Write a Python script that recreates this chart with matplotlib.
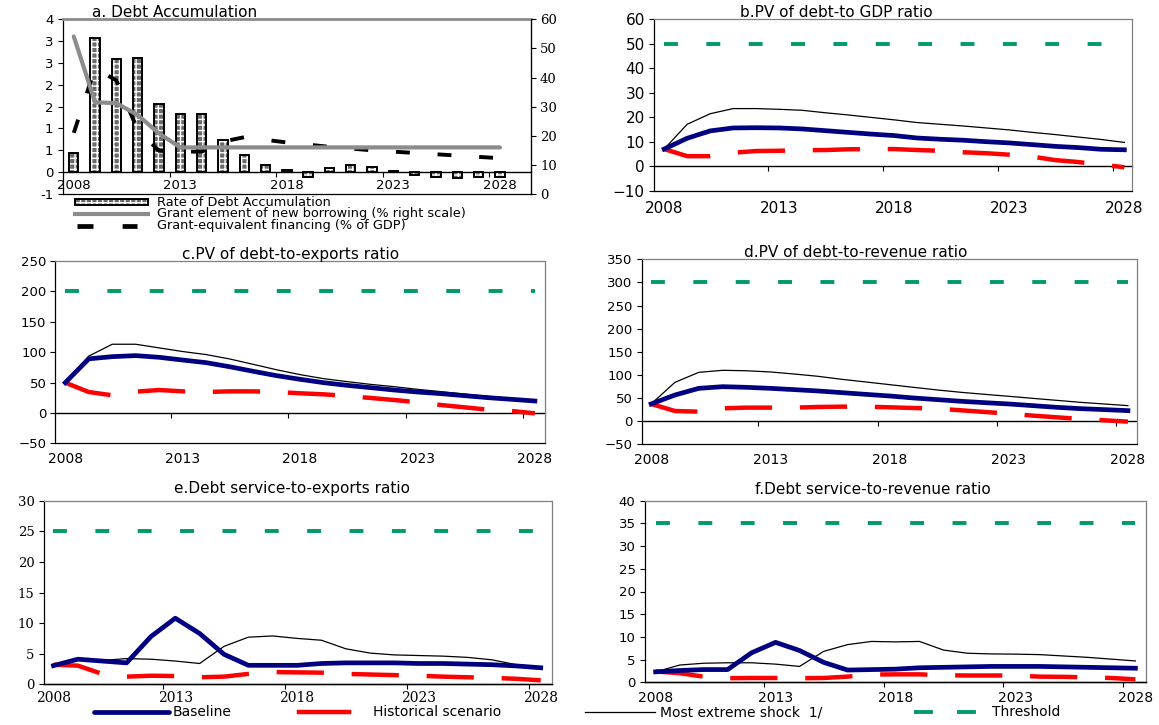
import matplotlib
matplotlib.use("Agg")
import matplotlib.pyplot as plt
from matplotlib.lines import Line2D
from matplotlib.patches import Rectangle

plt.rcParams['lines.scale_dashes'] = False
plt.rcParams['hatch.linewidth'] = 1.0
plt.rcParams['font.family'] = ['DejaVu Sans']

# ---------------- data ----------------
years = list(range(2008, 2029))
label_years = [2008, 2013, 2018, 2023, 2028]
between_ticks = [2012.5, 2017.5, 2022.5, 2027.5]

# a. Debt accumulation
debt_accum = [0.435, 3.07, 2.60, 2.61, 1.56, 1.34, 1.33, 0.725, 0.397, 0.153, 0.053,
              -0.10, 0.10, 0.153, 0.107, 0.02, -0.076, -0.115, -0.137, -0.107, -0.11]
grant_element = [54.1, 31.5, 31.2, 27.1, 20.8, 16.0, 16.0, 16.0, 16.0, 16.0, 16.0,
                 16.0, 16.0, 16.0, 16.0, 16.0, 16.0, 16.0, 16.0, 16.0, 16.0]
grant_equiv = [0.90, 2.38, 2.10, 0.97, 0.49, 0.47, 0.47, 0.70, 0.80, 0.74, 0.68,
               0.63, 0.58, 0.54, 0.50, 0.47, 0.44, 0.41, 0.38, 0.35, 0.32]
a_left_ticks = [-0.5, 0, 0.5, 1, 1.5, 2, 2.5, 3, 3.5]
a_left_ticklabels = ['-1', '0', '1', '1', '2', '2', '3', '3', '4']
a_right_ticks = [0, 10, 20, 30, 40, 50, 60]

# b. PV of debt-to GDP ratio
b_base = [7.1, 11.5, 14.5, 15.7, 15.8, 15.7, 15.3, 14.6, 13.9, 13.2, 12.6,
          11.6, 11.1, 10.7, 10.1, 9.6, 8.9, 8.2, 7.7, 7.0, 6.8]
b_hist = [7.1, 4.2, 4.2, 5.6, 6.3, 6.4, 6.6, 6.7, 7.0, 7.1, 7.1,
          6.7, 6.4, 5.8, 5.4, 4.8, 4.0, 2.6, 1.8, 0.7, -0.3]
b_ext = [7.1, 17.2, 21.5, 23.6, 23.6, 23.3, 22.9, 21.9, 21.0, 20.0, 19.0,
         17.9, 17.2, 16.5, 15.7, 14.9, 13.9, 13.0, 12.0, 11.0, 9.8]
b_thr = [50] * 21

# c. PV of debt-to-exports ratio
c_base = [49.8, 89.0, 92.6, 94.3, 91.5, 87.0, 82.7, 76.0, 68.5, 61.3, 55.3,
          49.8, 45.4, 41.6, 37.7, 34.4, 31.7, 28.4, 25.1, 22.4, 19.6]
c_hist = [49.8, 34.4, 29.0, 35.0, 37.7, 35.5, 34.4, 35.5, 35.5, 34.4, 32.3,
          30.6, 27.9, 24.6, 21.3, 17.5, 13.0, 9.2, 5.4, 3.2, -0.7]
c_ext = [49.8, 93.5, 113.0, 113.0, 107.0, 101.0, 96.0, 88.8, 80.0, 71.0, 63.0,
         56.4, 51.5, 47.0, 43.2, 38.8, 35.0, 31.0, 27.3, 24.0, 21.3]
c_thr = [200] * 21

# d. PV of debt-to-revenue ratio
d_base = [37.2, 56.6, 71.0, 74.6, 73.2, 71.0, 68.2, 65.3, 61.7, 58.0, 54.5,
          50.2, 46.6, 43.0, 40.0, 37.2, 33.6, 30.0, 27.1, 25.0, 22.8]
d_hist = [37.2, 22.0, 20.6, 27.8, 29.3, 29.3, 29.3, 30.7, 31.4, 31.4, 30.0,
          28.5, 27.1, 23.5, 19.9, 16.3, 12.0, 8.4, 4.8, 1.9, -1.0]
d_ext = [37.2, 84.0, 105.6, 110.0, 109.0, 106.4, 102.0, 97.0, 90.5, 84.8, 79.0,
         73.2, 67.5, 62.4, 58.0, 53.8, 49.4, 45.1, 40.8, 37.2, 33.6]
d_thr = [300] * 21

# e. Debt service-to-exports ratio
e_base = [3.05, 4.1, 3.8, 3.5, 7.8, 10.8, 8.3, 4.9, 3.1, 3.1, 3.1,
          3.4, 3.5, 3.5, 3.5, 3.4, 3.4, 3.3, 3.2, 3.0, 2.7]
e_hist = [3.2, 3.05, 1.7, 1.25, 1.4, 1.35, 1.15, 1.25, 1.7, 2.0, 1.95,
          1.9, 1.7, 1.6, 1.5, 1.4, 1.25, 1.15, 1.05, 0.9, 0.65]
e_ext = [3.05, 4.0, 3.9, 4.2, 4.1, 3.8, 3.4, 6.2, 7.7, 7.9, 7.5,
         7.2, 5.8, 5.1, 4.8, 4.7, 4.6, 4.4, 4.0, 3.2, 2.8]
e_thr = [25] * 21

# f. Debt service-to-revenue ratio
f_base = [2.3, 2.6, 2.8, 2.8, 6.5, 8.8, 7.0, 4.4, 2.7, 2.8, 2.9,
          3.2, 3.3, 3.4, 3.5, 3.5, 3.5, 3.4, 3.3, 3.2, 3.1]
f_hist = [2.4, 2.0, 1.25, 0.9, 0.95, 0.95, 0.9, 0.95, 1.25, 1.7, 1.75,
          1.75, 1.55, 1.5, 1.5, 1.5, 1.25, 1.2, 1.1, 0.95, 0.65]
f_ext = [2.3, 3.8, 4.2, 4.3, 4.3, 4.0, 3.5, 6.8, 8.3, 9.0, 8.9,
         9.0, 7.1, 6.4, 6.25, 6.2, 6.1, 5.8, 5.5, 5.1, 4.7]
f_thr = [35] * 21

# ---------------- styles ----------------
W, H = 1159, 725
NAVY = '#000080'
RED = '#FF0000'
GREEN = '#00996B'
GRAY = '#8C8C8C'
BAR_GRAY = '#6a6a6a'
BAR_HATCH = '+++'
RED_DASH = (34, 20)
GREEN_DASH = (10, 20.5)
BLACK_DASH = (10, 20)

fig = plt.figure(figsize=(W / 100, H / 100), dpi=100)


def add_axes(l, r, t, b):
    return fig.add_axes([l / W, 1 - b / H, (r - l) / W, (b - t) / H])


def fig_text(x, y, s, **kw):
    fig.text(x / W, 1 - y / H, s, **kw)


def zero_axis(ax, ylim, labels=False, fs=9, fam='DejaVu Sans'):
    frac = (0 - ylim[0]) / (ylim[1] - ylim[0])
    sec = ax.secondary_xaxis(frac)
    sec.spines['bottom'].set_color('black')
    sec.spines['bottom'].set_linewidth(1.0)
    sec.spines['top'].set_visible(False)
    sec.set_xticks(between_ticks, minor=True)
    sec.tick_params(which='minor', length=3.5, width=0.8, direction='out')
    if labels:
        sec.set_xticks(label_years, [str(y) for y in label_years])
        sec.tick_params(which='major', length=0, pad=5, labelsize=fs)
        for t in sec.get_xticklabels():
            t.set_family(fam)
    else:
        sec.set_xticks([])
    return sec


def style_frame(ax):
    for s in ['top', 'right']:
        ax.spines[s].set_color('#808080')
        ax.spines[s].set_linewidth(0.9)
    for s in ['left', 'bottom']:
        ax.spines[s].set_color('black')
        ax.spines[s].set_linewidth(0.9)


def line_panel(rect, xlim, ylim, yticks, base, hist, ext, thr, tfs=9.5, xfs=10,
               fam='DejaVu Sans', xpad=6):
    ax = add_axes(*rect)
    ax.plot(years, thr, color=GREEN, lw=2.8, dashes=GREEN_DASH, zorder=2)
    ax.plot(years, ext, color='black', lw=0.9, zorder=3)
    ax.plot(years, hist, color=RED, lw=3.2, dashes=RED_DASH, zorder=4)
    ax.plot(years, base, color=NAVY, lw=3.4, zorder=5, solid_joinstyle='round')
    ax.set_xlim(*xlim)
    ax.set_ylim(*ylim)
    ax.set_yticks(yticks)
    ax.tick_params(axis='y', length=3.5, width=0.8, direction='out', pad=3,
                   labelsize=tfs)
    ax.set_xticks(label_years, [str(y) for y in label_years])
    ax.tick_params(axis='x', length=0, pad=xpad, labelsize=xfs)
    for t in ax.get_xticklabels() + ax.get_yticklabels():
        t.set_family(fam)
    style_frame(ax)
    zero_axis(ax, ylim)
    return ax


# ---------------- panel a ----------------
axa = add_axes(62.5, 531, 19.3, 194)
axa.bar(years, debt_accum, width=0.44, facecolor=BAR_GRAY, edgecolor='white',
        hatch=BAR_HATCH, linewidth=0, zorder=2)
axa.bar(years, debt_accum, width=0.44, fill=False, edgecolor='black',
        linewidth=1.4, zorder=3)
axa.plot(years, grant_equiv, color='black', lw=2.8, dashes=BLACK_DASH, zorder=4)
axa.set_xlim(2007.47, 2029.46)
axa.set_ylim(-0.5, 3.5)
axa.set_yticks(a_left_ticks, a_left_ticklabels)
axa.tick_params(axis='y', length=3.5, width=0.8, direction='out', pad=3, labelsize=9.5)
axa.set_xticks([])
for s in ['left', 'bottom', 'right']:
    axa.spines[s].set_color('black')
    axa.spines[s].set_linewidth(0.9)
axa.spines['top'].set_color(GRAY)
axa.spines['top'].set_linewidth(2.0)
zero_axis(axa, (-0.5, 3.5), labels=True, fs=9.5)

axa2 = axa.twinx()
axa2.plot(years, grant_element, color=GRAY, lw=3.0, zorder=3,
          solid_joinstyle='round', solid_capstyle='round')
axa2.set_ylim(0, 60)
axa2.set_yticks(a_right_ticks)
axa2.tick_params(axis='y', length=3.5, width=0.8, direction='out', pad=3, labelsize=9.5)
for t in axa2.get_yticklabels():
    t.set_family('DejaVu Serif')
axa2.spines['right'].set_color('black')
axa2.spines['top'].set_visible(False)
for s in ['left', 'bottom']:
    axa2.spines[s].set_visible(False)

fig_text(92, 12.5, 'a. Debt Accumulation', ha='left', va='center', fontsize=11)

# panel a legend
ly = [202.3, 213.5, 226]
fig.add_artist(Rectangle((75 / W, 1 - 205 / H), 73 / W, 5.5 / H, transform=fig.transFigure,
                         facecolor=BAR_GRAY, edgecolor='white', hatch=BAR_HATCH,
                         linewidth=0))
fig.add_artist(Rectangle((75 / W, 1 - 205 / H), 73 / W, 5.5 / H, transform=fig.transFigure,
                         fill=False, edgecolor='black', linewidth=1.4))
fig.add_artist(Line2D([75 / W, 148 / W], [1 - ly[1] / H] * 2, transform=fig.transFigure,
                      color=GRAY, lw=3.0))
fig.add_artist(Line2D([77 / W, 137 / W], [1 - ly[2] / H] * 2, transform=fig.transFigure,
                      color='black', lw=3.4, dashes=(11.5, 21)))
fig_text(156.7, ly[0], 'Rate of Debt Accumulation', ha='left', va='center', fontsize=9.3)
fig_text(156.7, ly[1], 'Grant element of new borrowing (% right scale)', ha='left',
         va='center', fontsize=9.3)
fig_text(156.7, ly[2], 'Grant-equivalent financing (% of GDP)', ha='left', va='center',
         fontsize=9.3)

# ---------------- panels b-f ----------------
line_panel((653.8, 1132.4, 19.3, 191), (2007.55, 2028.35), (-10, 60),
           list(range(-10, 61, 10)), b_base, b_hist, b_ext, b_thr, tfs=11, xfs=11,
           xpad=7)
fig_text(836.5, 12.5, 'b.PV of debt-to GDP ratio', ha='center', va='center', fontsize=11)

line_panel((55.4, 545, 261, 443.3), (2007.58, 2028.43), (-50, 250),
           list(range(-50, 251, 50)), c_base, c_hist, c_ext, c_thr)
fig_text(290.6, 255, 'c.PV of debt-to-exports ratio', ha='center', va='center', fontsize=11)

line_panel((641.6, 1136.5, 259.3, 444.3), (2007.6, 2028.36), (-50, 350),
           list(range(-50, 351, 50)), d_base, d_hist, d_ext, d_thr)
fig_text(855.8, 252.7, 'd.PV of debt-to-revenue ratio', ha='center', va='center',
         fontsize=11)

line_panel((43.5, 552.4, 500.7, 684.3), (2007.59, 2028.48), (0, 30),
           list(range(0, 31, 5)), e_base, e_hist, e_ext, e_thr,
           fam='DejaVu Serif', xpad=5)
fig_text(291.5, 488, 'e.Debt service-to-exports ratio', ha='center', va='center',
         fontsize=11)

line_panel((644.6, 1146.4, 500.7, 682.3), (2007.54, 2028.46), (0, 40),
           list(range(0, 41, 5)), f_base, f_hist, f_ext, f_thr, xpad=6)
fig_text(873, 489, 'f.Debt service-to-revenue ratio', ha='center', va='center',
         fontsize=11)

# ---------------- bottom legend ----------------
LY = 712


def leg_line(x0, x1, **kw):
    fig.add_artist(Line2D([x0 / W, x1 / W], [1 - LY / H] * 2, transform=fig.transFigure, **kw))


leg_line(94, 169, color=NAVY, lw=3.4, solid_capstyle='round')
fig_text(172.5, LY, 'Baseline', ha='left', va='center', fontsize=10)
leg_line(299, 349, color=RED, lw=3.2)
fig_text(373, LY, 'Historical scenario', ha='left', va='center', fontsize=10)
leg_line(585, 655, color='black', lw=0.9)
fig_text(660, LY, 'Most extreme shock  1/', ha='left', va='center', fontsize=10)
leg_line(916, 931, color=GREEN, lw=2.8)
leg_line(959, 974, color=GREEN, lw=2.8)
fig_text(992, LY, 'Threshold', ha='left', va='center', fontsize=10)

fig.savefig('out.png', dpi=100)
